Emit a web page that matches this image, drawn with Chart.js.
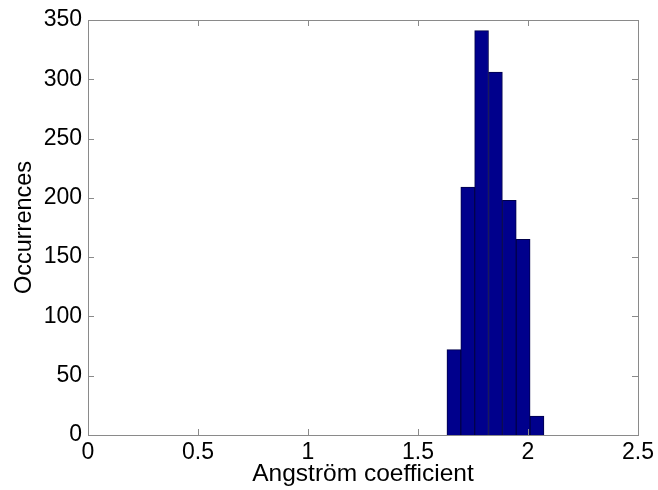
<!DOCTYPE html>
<html>
<head>
<meta charset="utf-8">
<script src="https://cdn.jsdelivr.net/npm/chart.js@4"></script>
<style>
	html, body { margin: 0; padding: 0; background: #fff; }
	#wrap { width: 658px; height: 490px; }
</style>
</head>
<body>
<div id="wrap"><canvas id="chart-angstrom"></canvas></div>
<script>
// Histogram data (bin centres and counts)
const BIN_CENTERS = [1.663, 1.726, 1.789, 1.852, 1.915, 1.978, 2.041];
const COUNTS = [72, 209, 341, 306, 198, 165, 16];

// Axis ticks
const X_TICKS = [0, 0.5, 1, 1.5, 2, 2.5];
const X_TICK_LABELS = ["0", "0.5", "1", "1.5", "2", "2.5"];
const Y_TICKS = [0, 50, 100, 150, 200, 250, 300, 350];
const Y_TICK_LABELS = ["0", "50", "100", "150", "200", "250", "300", "350"];

const AXIS_COLOR = "#8a8a8a";
const FONT_FAMILY = "'Liberation Sans', Arial, Helvetica, sans-serif";

// Box round the axes plus inward ticks on all four sides (MATLAB look)
const boxPlugin = {
	id: "matlabBox",
	afterDraw(chart) {
		const { ctx, chartArea, scales } = chart;
		const { left, right, top, bottom } = chartArea;
		const tick = 6;
		ctx.save();
		ctx.strokeStyle = AXIS_COLOR;
		ctx.lineWidth = 1;
		ctx.beginPath();
		X_TICKS.forEach((v) => {
			const px = Math.round(scales.x.getPixelForValue(v)) + 0.5;
			ctx.moveTo(px, bottom);
			ctx.lineTo(px, bottom - tick);
			ctx.moveTo(px, top);
			ctx.lineTo(px, top + tick);
		});
		Y_TICKS.forEach((v) => {
			const py = Math.round(scales.y.getPixelForValue(v)) + 0.5;
			ctx.moveTo(left, py);
			ctx.lineTo(left + tick, py);
			ctx.moveTo(right, py);
			ctx.lineTo(right - tick, py);
		});
		ctx.stroke();
		ctx.strokeRect(Math.round(left) + 0.5, Math.round(top) + 0.5, Math.round(right - left), Math.round(bottom - top));
		ctx.restore();
	},
};

const CHART_DATA = {
	datasets: [
		{
			label: "Occurrences",
			data: BIN_CENTERS.map((x, i) => ({ x, y: COUNTS[i] })),
			backgroundColor: "#00008c",
			borderColor: "#00004a",
			borderWidth: 1,
			barPercentage: 1,
			categoryPercentage: 1,
		},
	],
};

const CHART_CONFIG = {
	type: "bar",
	data: CHART_DATA,
	options: {
		responsive: true,
		maintainAspectRatio: false,
		animation: false,
		layout: {
			padding: { left: 0, right: 19, top: 20, bottom: 0 },
		},
		scales: {
			x: {
				type: "linear",
				offset: false,
				min: 0,
				max: 2.5,
				border: { display: false },
				grid: { display: false, drawTicks: false },
				afterBuildTicks: (scale) => {
					scale.ticks = X_TICKS.map((v) => ({ value: v }));
				},
				afterFit: (scale) => {
					scale.height = 55;
				},
				ticks: {
					color: "#000",
					padding: 4,
					maxRotation: 0,
					autoSkip: false,
					font: { family: FONT_FAMILY, size: 23 },
					callback: (value) => X_TICK_LABELS[X_TICKS.indexOf(value)],
				},
				title: {
					display: true,
					text: "Angström coefficient",
					color: "#000",
					padding: { top: 0, bottom: 1 },
					font: { family: FONT_FAMILY, size: 24.5 },
				},
			},
			y: {
				min: 0,
				max: 350,
				border: { display: false },
				grid: { display: false, drawTicks: false },
				afterBuildTicks: (scale) => {
					scale.ticks = Y_TICKS.map((v) => ({ value: v }));
				},
				afterFit: (scale) => {
					scale.width = 88;
				},
				ticks: {
					color: "#000",
					padding: 6,
					autoSkip: false,
					font: { family: FONT_FAMILY, size: 23 },
					callback: (value) => Y_TICK_LABELS[Y_TICKS.indexOf(value)],
				},
				title: {
					display: true,
					text: "Occurrences",
					color: "#000",
					padding: { top: 10, bottom: 10 },
					font: { family: FONT_FAMILY, size: 23.5 },
				},
			},
		},
		plugins: {
			legend: { display: false },
			tooltip: { enabled: false },
		},
	},
	plugins: [boxPlugin],
};

new Chart(document.getElementById("chart-angstrom"), CHART_CONFIG);
</script>
</body>
</html>
